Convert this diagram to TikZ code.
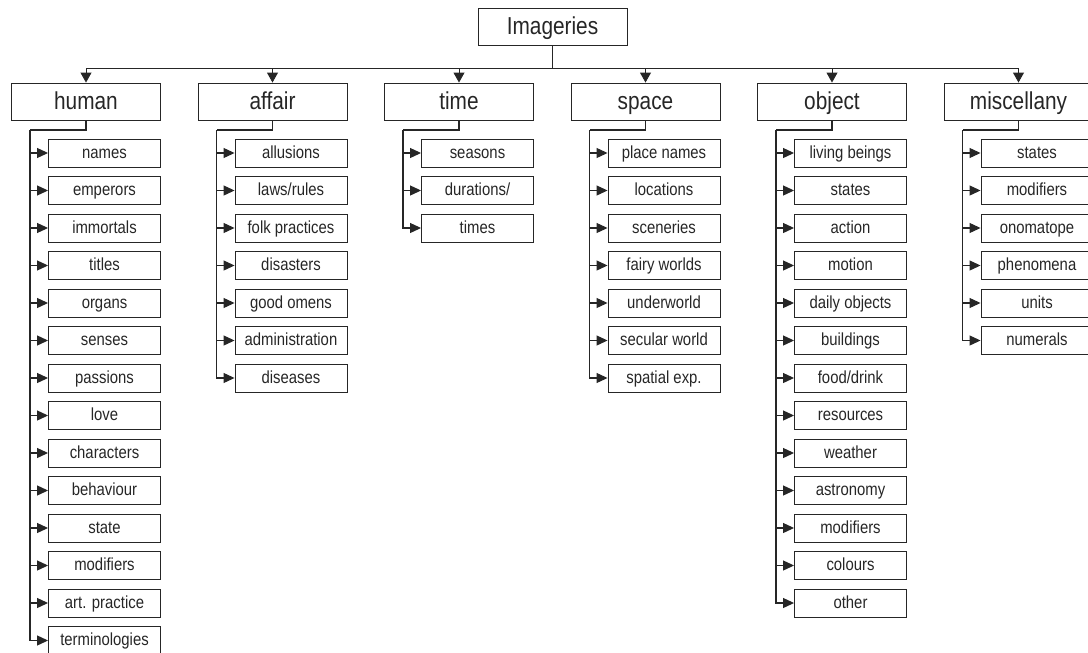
\documentclass[tikz,border=0pt]{standalone}
\usepackage{fontspec}
\setmainfont{Liberation Sans}[FakeStretch=0.85]
\usetikzlibrary{arrows.meta}
\definecolor{ink}{HTML}{262626}
\tikzset{
  catbox/.style={draw=ink, line width=0.9pt, rectangle, minimum width=149pt, minimum height=37pt,
    inner sep=0pt, text=ink, font=\fontsize{24.5}{28}\selectfont,
    text height=17.5pt, text depth=2pt},
  leafbox/.style={draw=ink, line width=0.9pt, rectangle, minimum width=112pt, minimum height=28pt,
    inner sep=0pt, text=ink, font=\fontsize{17.5}{20}\selectfont,
    text height=12.5pt, text depth=1.9pt},
  busline/.style={draw=ink, line width=0.9pt},
  trunk/.style={draw=ink, line width=1.3pt},
  downarr/.style={draw=ink, line width=0.9pt, -{Triangle[length=10pt,width=11pt]}},
  sidearr/.style={draw=ink, line width=1.1pt, -{Triangle[length=11pt,width=10pt]}},
}
\begin{document}
\begin{tikzpicture}[x=1pt, y=-1pt]
\useasboundingbox (0,0) rectangle (1088,653);

% root and distribution bus
\node[catbox] (root) at (552.5,26.5) {Imageries};
\coordinate (bus) at (552.5,68);
\draw[busline] (root.south) -- (bus);

% categories
\foreach \nm/\lbl/\cx in {human/human/86, affair/affair/272.5, time/time/459,
                          space/space/645.5, object/object/832, misc/miscellany/1018.5} {
  \node[catbox] (\nm) at (\cx,101.5) {\lbl};
  \draw[downarr] (bus) -| (\nm.north);
  \coordinate (\nm-t) at (\cx-56,130);
  \draw[trunk] (\nm.south) -- (\nm.south |- \nm-t) -- (\nm-t);
}

% leaves of each category
\def\leaves#1#2#3{%
  \foreach \t [count=\i] in {#3} {
    \node[leafbox] (#1-\i) at (#2+18.5,153+37.5*\i-37.5) {\t};
    \draw[sidearr] (#1-t) |- (#1-\i.west);
  }%
}
\leaves{human}{86}{names, emperors, immortals, titles, organs, senses, passions, love,
  characters, behaviour, state, modifiers, art. practice, terminologies}
\leaves{affair}{272.5}{allusions, laws/rules, folk practices, disasters, good omens,
  administration, diseases}
\leaves{time}{459}{seasons, durations/, times}
\leaves{space}{645.5}{place names, locations, sceneries, fairy worlds, underworld,
  secular world, spatial exp.}
\leaves{object}{832}{living beings, states, action, motion, daily objects, buildings,
  food/drink, resources, weather, astronomy, modifiers, colours, other}
\leaves{misc}{1018.5}{states, modifiers, onomatope, phenomena, units, numerals}
\end{tikzpicture}
\end{document}
